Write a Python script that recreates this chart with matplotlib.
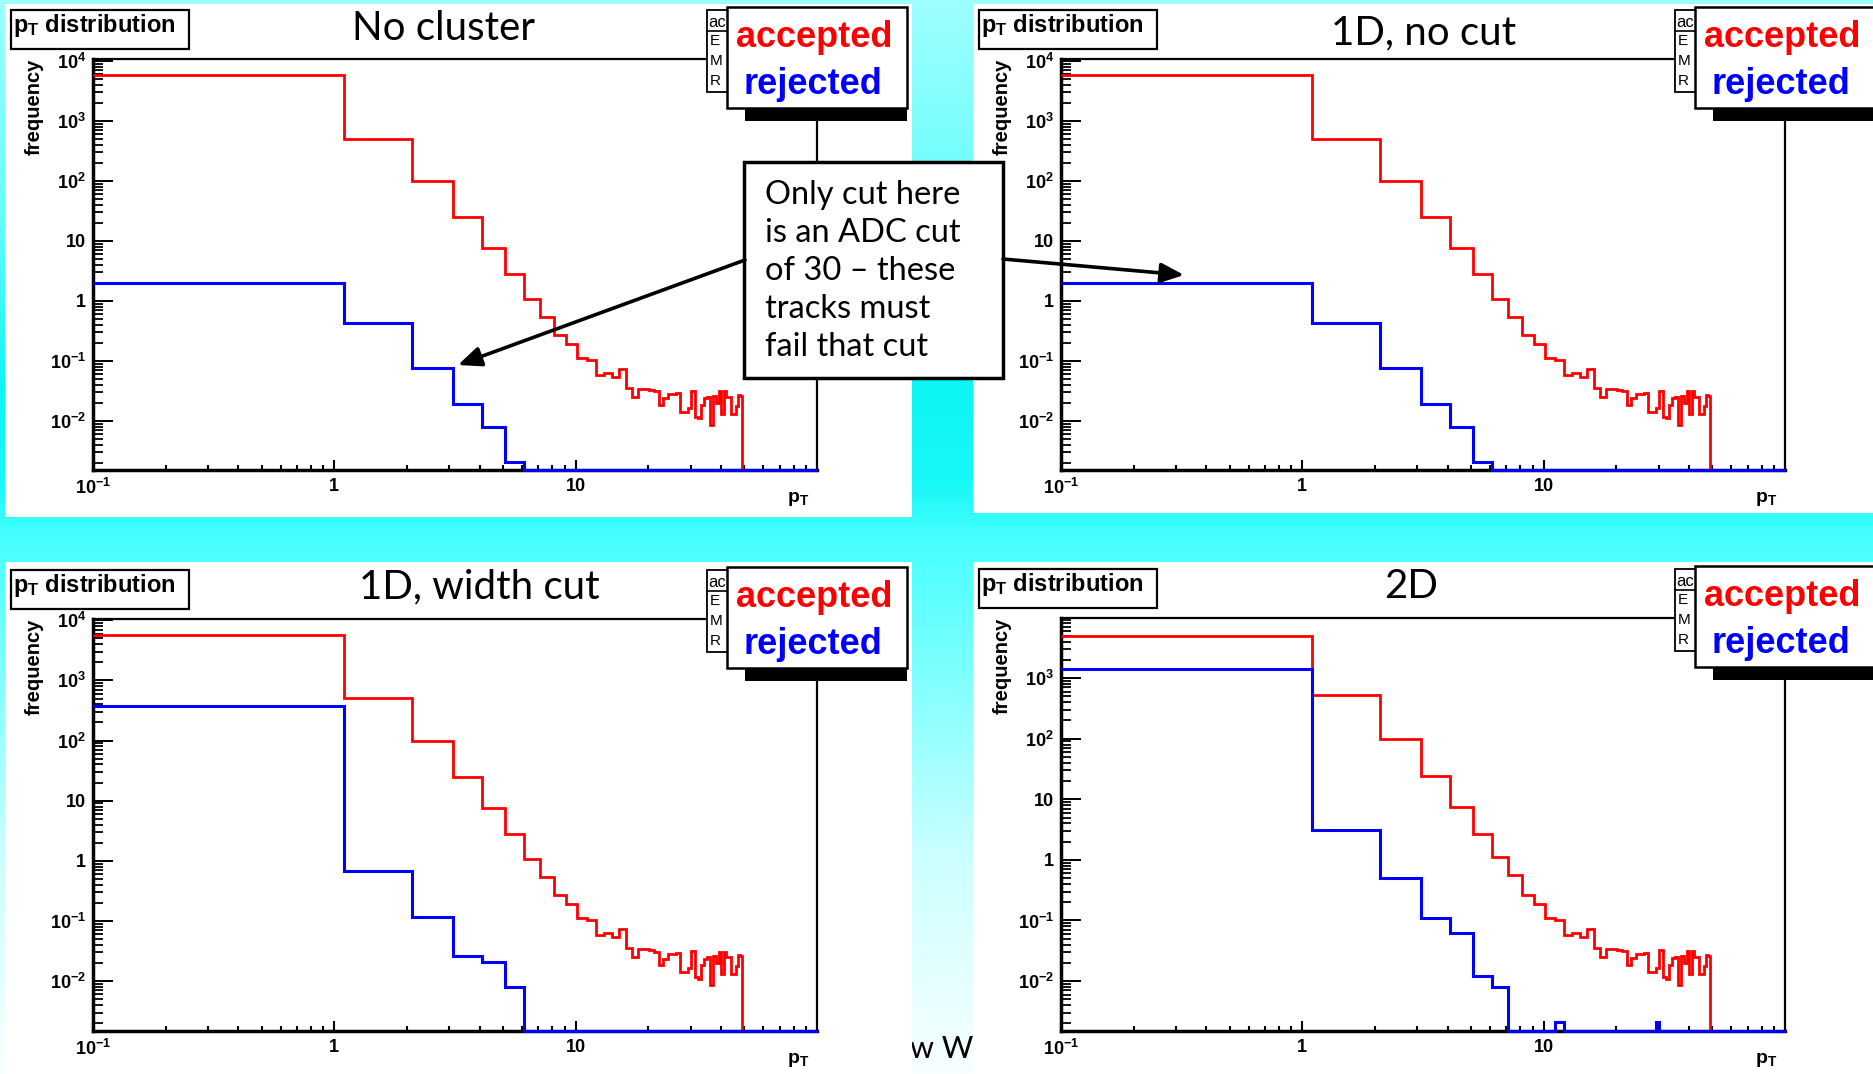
import numpy as np
import matplotlib
matplotlib.use("Agg")
import matplotlib.pyplot as plt
from matplotlib.patches import Rectangle
from matplotlib.ticker import LogLocator, NullFormatter

plt.rcParams['font.family'] = ['Liberation Sans', 'DejaVu Sans']
plt.rcParams['font.weight'] = 'bold'
plt.rcParams['mathtext.default'] = 'regular'

W, H = 1874, 1074

# pT histogram binning: 1 GeV bins starting at 0.1
edges = np.arange(0.1, 100.2, 1.0)

# accepted tracks, bins 0.1-1.1 ... 8.1-9.1
accepted_low = [5800, 506, 97.5, 24.7, 7.46, 2.75, 1.08, 0.54, 0.27]
accepted_low_2d = [4900, 520, 97, 24.6, 7.5, 2.67, 1.1, 0.56, 0.26]
# accepted tracks, bins 9.1-10.1 ... 48.1-49.1
accepted_tail = [0.19, 0.11, 0.103, 0.058, 0.062, 0.054, 0.073, 0.035, 0.025, 0.034,
                 0.034, 0.033, 0.031, 0.0183, 0.0237, 0.028, 0.028, 0.029, 0.0142, 0.0142,
                 0.0165, 0.032, 0.0117, 0.011, 0.0183, 0.0237, 0.025, 0.0085, 0.026, 0.02,
                 0.031, 0.013, 0.031, 0.025, 0.025, 0.013, 0.013, 0.018, 0.027, 0.026]

# rejected tracks, from bin 0.1-1.1 on (empty bins after)
rejected_nocluster = [2.0, 0.43, 0.077, 0.019, 0.008, 0.00206]
rejected_1d_nocut = [1.95, 0.43, 0.077, 0.019, 0.008, 0.00206]
rejected_1d_width = [375, 0.675, 0.117, 0.026, 0.0205, 0.008]
rejected_2d = [1400, 3.08, 0.51, 0.11, 0.062, 0.012, 0.008, 0, 0, 0, 0, 0.0021] + [0] * 17 + [0.0021]

titles = ["No cluster", "1D, no cut", "1D, width cut", "2D"]
ytick_vals = [1e-2, 1e-1, 1, 10, 1e2, 1e3, 1e4]
ytick_labels = ["$10^{-2}$", "$10^{-1}$", "1", "10", "$10^{2}$", "$10^{3}$", "$10^{4}$"]
xtick_vals = [0.1, 1, 10]
xtick_labels = ["$10^{-1}$", "1", "10"]
stats_rows = ["E", "M", "R"]

note_lines = ["Only cut here", "is an ADC cut", "of 30 \u2013 these", "tracks must", "fail that cut"]


def fill_bins(vals):
    h = np.zeros(len(edges) - 1)
    h[:len(vals)] = vals
    return h


acc_std = fill_bins(accepted_low + accepted_tail)
acc_2d = fill_bins(accepted_low_2d + accepted_tail)
acc_sets = [acc_std, acc_std, acc_std, acc_2d]
rej_sets = [fill_bins(rejected_nocluster), fill_bins(rejected_1d_nocut),
            fill_bins(rejected_1d_width), fill_bins(rejected_2d)]

# layout in pixels
panels = [(5, 4, 912, 517), (973, 4, 1874, 513), (5, 562, 912, 1074), (973, 562, 1874, 1074)]
frames = [(93, 59, 817, 470), (1061, 59, 1785, 470), (93, 619, 817, 1031), (1061, 618, 1785, 1031)]
ylims = [(1.52e-3, 1.07e4), (1.52e-3, 1.07e4), (1.48e-3, 1.05e4), (1.5e-3, 9800)]
title_pos = [(444, 40), (1424, 44), (479, 598), (1411, 598)]

fig = plt.figure(figsize=(W / 100, H / 100), dpi=100)

# slide background
bg = fig.add_axes([0, 0, 1, 1], zorder=-10)
yy = np.linspace(0, 1, 300)
stops = [0.0, 0.2, 0.36, 0.45, 0.5, 0.6, 0.8, 1.0]
red_ch = [0.62, 0.4, 0.05, 0.1, 0.27, 0.45, 0.8, 0.97]
grad = np.ones((300, 1, 3))
grad[:, 0, 0] = np.interp(yy, stops, red_ch)
grad[:, 0, 1] = np.interp(yy, stops, [1, 0.99, 0.96, 0.97, 1, 1, 1, 1])
grad[:, 0, 2] = grad[:, 0, 1]
bg.imshow(grad, extent=(0, W, H, 0), aspect='auto')
bg.text(910, 1058, "w W", fontfamily='Lato', fontweight='normal', fontsize=22, zorder=1)
for (x0, y0, x1, y1) in panels:
    bg.add_patch(Rectangle((x0, y0), x1 - x0, y1 - y0, facecolor='white', edgecolor='none', zorder=2))
bg.set_xlim(0, W)
bg.set_ylim(H, 0)
bg.axis('off')

ov = fig.add_axes([0, 0, 1, 1], zorder=10)
ov.set_xlim(0, W)
ov.set_ylim(H, 0)
ov.axis('off')
ov.patch.set_alpha(0)

for i in range(4):
    x0, y0, x1, y1 = frames[i]
    ax = fig.add_axes([x0 / W, 1 - y1 / H, (x1 - x0) / W, (y1 - y0) / H])
    ax.set_xscale('log')
    ax.set_yscale('log')
    floor = ylims[i][0]
    ax.stairs(np.maximum(acc_sets[i], floor), edges, baseline=None, color='#ff0000', lw=2.0,
              clip_on=False, zorder=3)
    ax.stairs(np.maximum(rej_sets[i], floor), edges, baseline=None, color='#0000ff', lw=2.2,
              clip_on=False, zorder=4)
    ax.set_xlim(0.1, 100)
    ax.set_yticks(ytick_vals, ytick_labels)
    ax.set_xticks(xtick_vals, xtick_labels)
    ax.set_ylim(*ylims[i])
    ax.yaxis.set_minor_locator(LogLocator(base=10, subs=np.arange(2, 10), numticks=30))
    ax.xaxis.set_minor_locator(LogLocator(base=10, subs=np.arange(2, 10), numticks=30))
    ax.yaxis.set_minor_formatter(NullFormatter())
    ax.xaxis.set_minor_formatter(NullFormatter())
    ax.tick_params(which='both', direction='in', top=False, right=False, color='black')
    ax.tick_params(axis='y', which='major', length=14.5, width=1.4, pad=5, labelsize=13)
    ax.tick_params(axis='y', which='minor', length=7.2, width=1.3)
    ax.tick_params(axis='x', which='major', length=7, width=1.5, pad=6, labelsize=13)
    ax.tick_params(axis='x', which='minor', length=3.8, width=1.5)
    for side in ['left', 'bottom']:
        ax.spines[side].set_linewidth(2.5)
    for side in ['top', 'right']:
        ax.spines[side].set_linewidth(1.6)

    # ROOT axis titles
    ov.text(x0 - 59, y0, "frequency", rotation=90, ha='center', va='top', fontsize=14.5)
    ov.text(x1 - 19, y1 + 32, "p$_{T}$", ha='center', va='baseline', fontsize=14)

    # histogram title box
    ov.add_patch(Rectangle((x0 - 82, y0 - 49), 178, 39, facecolor='white', edgecolor='black', lw=1.6))
    ov.text(x0 - 80, y0 - 27, "p$_{T}$ distribution", ha='left', va='baseline', fontsize=17)

    # stats box, mostly hidden behind the legend
    ov.add_patch(Rectangle((x1 - 110, y0 - 49), 195, 82, facecolor='white', edgecolor='black',
                           lw=1.3, zorder=2))
    ov.plot([x1 - 110, x1 + 85], [y0 - 28, y0 - 28], color='black', lw=1.2, zorder=3)
    ov.text(x1 - 109, y0 - 32, "ac", fontsize=12, va='baseline', fontweight='normal', zorder=3)
    for k, lab in enumerate(stats_rows):
        ov.text(x1 - 107, y0 - 14 + 20 * k, lab, fontsize=11, va='baseline', fontweight='normal',
                zorder=3)

    # legend with shadow
    ov.add_patch(Rectangle((x1 - 72, y0 + 49), 162, 13, facecolor='black', edgecolor='none', zorder=5))
    ov.add_patch(Rectangle((x1 - 90, y0 - 52), 180, 101, facecolor='white', edgecolor='black',
                           lw=1.8, zorder=5))
    ov.text(x1 - 3, y0 - 12, "accepted", color='#ff0000', ha='center', va='baseline', fontsize=26,
            zorder=6)
    ov.text(x1 - 4, y0 + 35, "rejected", color='#0000ff', ha='center', va='baseline', fontsize=26,
            zorder=6)

    # slide title
    tx, ty = title_pos[i]
    ov.text(tx, ty, titles[i], ha='center', va='baseline', fontsize=29,
            fontfamily='Lato', fontweight='normal')

# note box with arrows
ov.add_patch(Rectangle((744, 162), 259, 216, facecolor='white', edgecolor='black', lw=2.5, zorder=7))
for k, line in enumerate(note_lines):
    ov.text(765, 204 + 38 * k, line, ha='left', va='baseline', fontsize=23.5,
            fontfamily='Lato', fontweight='normal', zorder=8)
arrow_style = dict(arrowstyle='-|>,head_length=0.7,head_width=0.3', lw=2.6, color='black',
                   shrinkA=0, shrinkB=0, mutation_scale=20)
ov.annotate('', xy=(458, 365), xytext=(745, 260), arrowprops=arrow_style, zorder=8)
ov.annotate('', xy=(1184, 275), xytext=(1003, 259), arrowprops=arrow_style, zorder=8)

fig.savefig('out.png', dpi=100)
